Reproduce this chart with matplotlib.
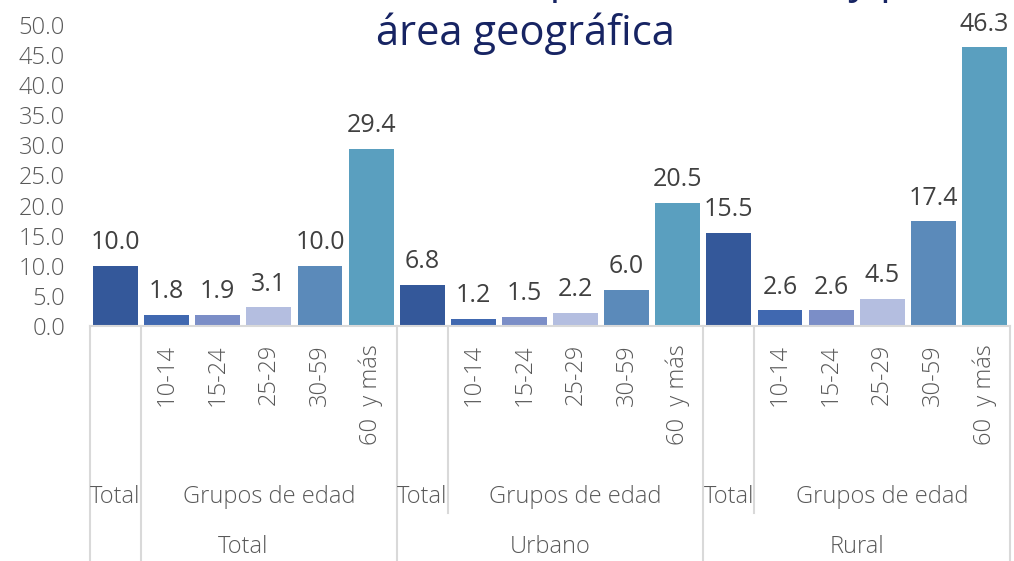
import matplotlib
matplotlib.use("Agg")
import matplotlib.pyplot as plt
from matplotlib.transforms import blended_transform_factory

# ---- data ----
areas = ["Total", "Urbano", "Rural"]
sub_groups = ["Total", "Grupos de edad"]
age_groups = ["10-14", "15-24", "25-29", "30-59", "60  y más"]
vals_total = [10.0, 1.8, 1.9, 3.1, 10.0, 29.4]
vals_urbano = [6.8, 1.2, 1.5, 2.2, 6.0, 20.5]
vals_rural = [15.5, 2.6, 2.6, 4.5, 17.4, 46.3]
y_ticks = [0, 5, 10, 15, 20, 25, 30, 35, 40, 45, 50]
title_line1 = "Tasa de analfabetismo por sexo, edad y por"
title_line2 = "área geográfica"

bar_colors = ["#34589A", "#4068B0", "#7B8EC7", "#B4BEE0", "#5B8ABA", "#5A9FBF"]

FONT = ["Open Sans", "DejaVu Sans"]
plt.rcParams["font.family"] = FONT

W, H = 1014, 561
fig = plt.figure(figsize=(W / 100, H / 100), dpi=100)
ax_left, ax_right, ax_top_px, ax_bot_px = 90, 1010, 25, 326
ax = fig.add_axes([ax_left / W, 1 - ax_bot_px / H, (ax_right - ax_left) / W,
                   (ax_bot_px - ax_top_px) / H])

all_vals = vals_total + vals_urbano + vals_rural
n_per = len(vals_total)
xs = list(range(len(all_vals)))
colors = bar_colors * len(areas)
ax.bar(xs, all_vals, width=0.88, color=colors, zorder=2)

for x, v in zip(xs, all_vals):
    ax.annotate(f"{v:.1f}", (x, v), xytext=(0, 12), textcoords="offset points",
                ha="center", va="baseline", fontsize=18, color="#404040")

TICK_KW = dict(fontsize=17, color="#595959", fontweight="light")

ax.set_xlim(-0.5, len(all_vals) - 0.5)
ax.set_ylim(0, 50)
ax.set_yticks(y_ticks)
ax.set_yticklabels([f"{t:.1f}" for t in y_ticks], **TICK_KW)
ax.tick_params(axis="y", length=0, pad=18)
ax.set_xticks([])
for s in ["left", "right", "top"]:
    ax.spines[s].set_visible(False)
ax.spines["bottom"].set_color("#D9D9D9")
ax.spines["bottom"].set_linewidth(1.5)

tr = blended_transform_factory(ax.transData, fig.transFigure)
def fy(py):
    return 1 - py / H

line_kw = dict(color="#D9D9D9", lw=1.5, transform=tr, clip_on=False)
for gi, area in enumerate(areas):
    start = gi * n_per
    ax.plot([start - 0.5, start - 0.5], [fy(326), fy(561)], **line_kw)
    sep_end = 561 if gi == 0 else 513
    ax.plot([start + 0.5, start + 0.5], [fy(326), fy(sep_end)], **line_kw)
    for j, lab in enumerate(age_groups):
        ax.text(start + 1 + j, fy(344), lab, rotation=90, ha="center", va="top",
                transform=tr, **TICK_KW)
    ax.text(start, fy(497), sub_groups[0], ha="center", va="center",
            transform=tr, **TICK_KW)
    ax.text(start + 3, fy(497), sub_groups[1], ha="center", va="center",
            transform=tr, **TICK_KW)
    ax.text(start + 2.5, fy(547), area, ha="center", va="center",
            transform=tr, **TICK_KW)
ax.plot([len(all_vals) - 0.5] * 2, [fy(326), fy(561)], **line_kw)

fig.text(525 / W, fy(-7), title_line1, ha="center", va="baseline",
         fontsize=30, color="#172463")
fig.text(525 / W, fy(45), title_line2, ha="center", va="baseline",
         fontsize=30, color="#172463")

fig.savefig("out.png", dpi=100)
